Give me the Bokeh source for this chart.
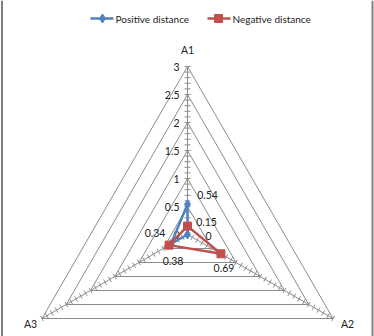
import numpy as np
from bokeh.plotting import figure
from bokeh.models import Range1d
from bokeh.core.properties import value
from bokeh.embed import file_html
from bokeh.resources import INLINE

categories = ["A1", "A2", "A3"]
positive = [0.54, 0.0, 0.34]
negative = [0.15, 0.69, 0.38]
series_names = ["Positive distance", "Negative distance"]
axis_ticks = [0, 0.5, 1, 1.5, 2, 2.5, 3]
axis_tick_labels = ["0", "0.5", "1", "1.5", "2", "2.5", "3"]
r_max = 3.0

W, H = 374, 336
CX, CY = 187, 234
S = 56.0  # pixels per unit
FONT = value("Lato")
BLUE = "#4F81BD"
RED = "#C0504D"
GRID = "#8C8C8C"

p = figure(width=W, height=H, output_backend="svg", toolbar_location=None,
           x_range=Range1d(-CX / S, (W - CX) / S),
           y_range=Range1d(-(H - CY) / S, CY / S),
           min_border=0, outline_line_color=None)
p.axis.visible = False
p.grid.visible = False
p.background_fill_color = "white"

angles = np.radians([90, -30, 210])  # A1 top, A2 bottom-right, A3 bottom-left
ux, uy = np.cos(angles), np.sin(angles)

def px(dx):
    return dx / S

# grid triangles
for r in np.arange(0.5, r_max + 0.01, 0.5):
    xs = list(r * ux) + [r * ux[0]]
    ys = list(r * uy) + [r * uy[0]]
    p.line(xs, ys, line_color=GRID, line_width=1)

# spokes
for k in range(3):
    p.segment(0, 0, r_max * ux[k], r_max * uy[k], line_color=GRID, line_width=1)

# minor ticks along spokes
x0s, y0s, x1s, y1s = [], [], [], []
h = px(3)
for k in range(3):
    nx, ny = -uy[k], ux[k]
    for r in np.arange(0.1, r_max + 0.001, 0.1):
        bx, by = r * ux[k], r * uy[k]
        x0s.append(bx - h * nx); y0s.append(by - h * ny)
        x1s.append(bx + h * nx); y1s.append(by + h * ny)
p.segment(x0s, y0s, x1s, y1s, line_color=GRID, line_width=1)

# axis value labels (left of A1 spoke)
p.text([px(-8)] * len(axis_ticks), axis_ticks, text=axis_tick_labels,
       text_align="right", text_baseline="middle", text_font=FONT,
       text_font_size="10.5px", text_color="#222222")

# category labels (pixel offsets from the vertex: right, down)
cat_off = [(0, -17), (14.5, 5), (-11.5, 5)]
for k, c in enumerate(categories):
    p.text([r_max * ux[k] + px(cat_off[k][0])], [r_max * uy[k] - px(cat_off[k][1])],
           text=[c], text_align="center", text_baseline="middle",
           text_font=FONT, text_font_size="10.5px", text_color="#222222")

# series
def draw(vals, color, marker, size):
    xs = [v * ux[k] for k, v in enumerate(vals)] + [vals[0] * ux[0]]
    ys = [v * uy[k] for k, v in enumerate(vals)] + [vals[0] * uy[0]]
    p.line(xs, ys, line_color=color, line_width=2.5)
    p.scatter(xs[:-1], ys[:-1], marker=marker, size=size,
              fill_color=color, line_color=color)
    return xs, ys

pxs, pys = draw(positive, BLUE, "diamond", 9)
nxs, nys = draw(negative, RED, "square", 8)

# data labels (pixel offsets from point: right, down)
pos_off = [(20, -9), (21, 1), (-16, -11)]
neg_off = [(19, -4), (3, 14), (4, 16)]
for xs, ys, vals, offs in [(pxs, pys, positive, pos_off), (nxs, nys, negative, neg_off)]:
    lx = [xs[k] + px(offs[k][0]) for k in range(3)]
    ly = [ys[k] - px(offs[k][1]) for k in range(3)]
    labels = [("%g" % v) for v in vals]
    p.text(lx, ly, text=labels, text_align="center", text_baseline="middle",
           text_font=FONT, text_font_size="10.5px", text_color="#222222")

# legend (manual)
ly = px(CY - 18)
p.line([px(90 - CX), px(113 - CX)], [ly, ly], line_color=BLUE, line_width=2.5)
p.scatter([px(102 - CX)], [ly], marker="diamond", size=9, fill_color=BLUE, line_color=BLUE)
p.text([px(115 - CX)], [ly], text=[series_names[0]], text_align="left", text_baseline="middle",
       text_font=FONT, text_font_size="10px", text_color="#222222")
p.line([px(207 - CX), px(230 - CX)], [ly, ly], line_color=RED, line_width=2.5)
p.scatter([px(218 - CX)], [ly], marker="square", size=8, fill_color=RED, line_color=RED)
p.text([px(232 - CX)], [ly], text=[series_names[1]], text_align="left", text_baseline="middle",
       text_font=FONT, text_font_size="10px", text_color="#222222")

# frame side borders
p.segment([px(1.5 - CX), px(372 - CX)], [px(CY - H), px(CY - H)],
          [px(1.5 - CX), px(372 - CX)], [px(CY), px(CY)],
          line_color="#808080", line_width=2)

open("out.html", "w").write(file_html(p, INLINE))
